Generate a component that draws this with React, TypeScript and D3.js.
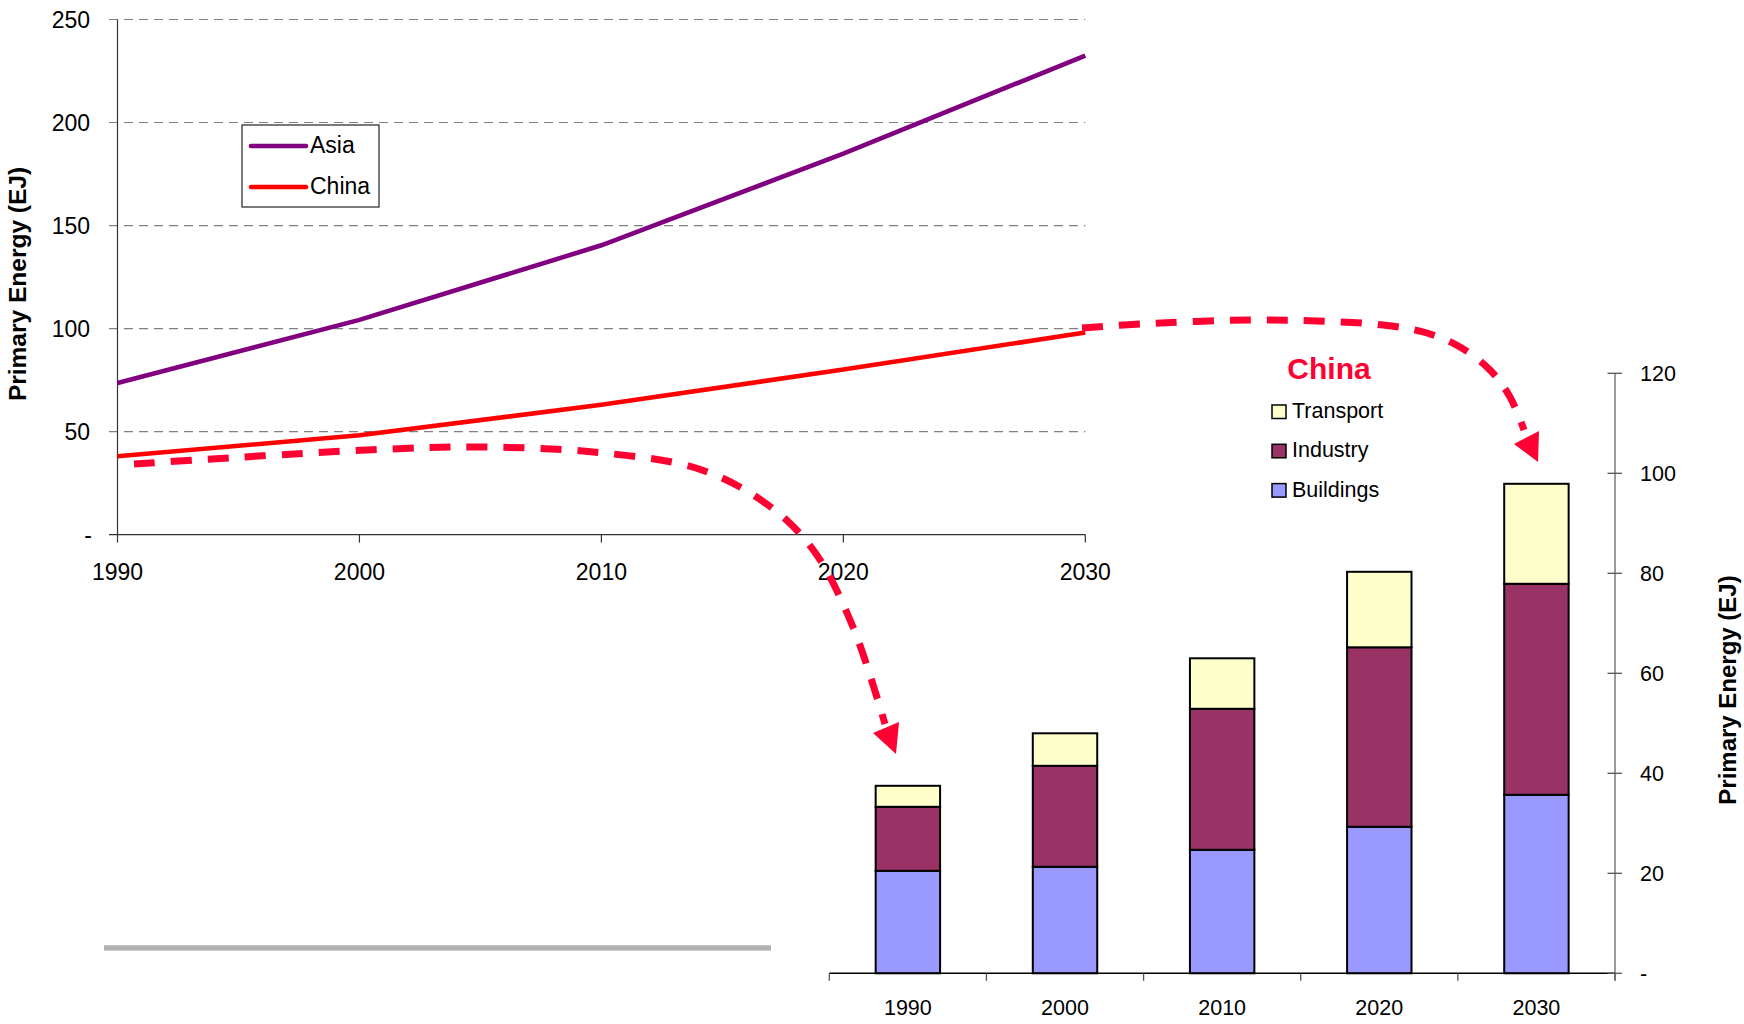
import React from "react";
import * as d3 from "d3";

// ---------- data ----------
const lineYears = [1990, 2000, 2010, 2020, 2030];
const asiaValues = [73.6, 104.2, 140.4, 184.9, 232.5];
const chinaValues = [38.0, 48.2, 63.0, 80.1, 98.1];
const leftYTicks = [0, 50, 100, 150, 200, 250];

const barYears = ["1990", "2000", "2010", "2020", "2030"];
const buildings = [20.5, 21.3, 24.7, 29.3, 35.7];
const industry = [12.8, 20.2, 28.2, 35.9, 42.2];
const transport = [4.2, 6.5, 10.1, 15.1, 20.0];
const rightYTicks = [0, 20, 40, 60, 80, 100, 120];

const sectorKeys = ["Buildings", "Industry", "Transport"];
const sectorColors: Record<string, string> = {
  Buildings: "#9999FF",
  Industry: "#993366",
  Transport: "#FFFFCC",
};
const legendOrder = ["Transport", "Industry", "Buildings"];

// annotation arrows (pixel space)
const arrow1: [number, number][] = [
  [134, 464], [367, 450], [478, 447], [593, 452], [699, 469], [768, 505],
  [814, 551], [853, 627], [885, 724],
];
const arrow1Head: [number, number][] = [[873, 733], [899, 722], [896, 754]];
const arrow2: [number, number][] = [
  [1082, 328], [1140, 324], [1250, 320], [1317, 321], [1383, 325], [1427, 333],
  [1460, 347], [1490, 370], [1510, 397], [1524, 430],
];
const arrow2Head: [number, number][] = [[1514, 444], [1539, 431], [1538, 462]];

const FONT = "Arial, 'Liberation Sans', Helvetica, sans-serif";
const ARROW_RED = "#FF0033";

export default function App() {
  // left line chart scales
  const xL = d3.scaleLinear().domain([1990, 2030]).range([117.5, 1085.3]);
  const yL = d3.scaleLinear().domain([0, 250]).range([534.6, 19.5]);
  const lineGen = d3
    .line<number>()
    .x((_, i) => xL(lineYears[i]))
    .y((d) => yL(d));

  // right bar chart scales
  const xR = d3
    .scaleBand<string>()
    .domain(barYears)
    .range([829.3, 1615])
    .paddingInner(0.59)
    .paddingOuter(0.295);
  const yR = d3.scaleLinear().domain([0, 120]).range([973.3, 373.3]);
  const rows = barYears.map((y, i) => ({
    year: y,
    Buildings: buildings[i],
    Industry: industry[i],
    Transport: transport[i],
  }));
  const stacked = d3.stack<any>().keys(sectorKeys)(rows);
  const step = xR.step();
  const bandEdges = d3.range(barYears.length + 1).map((i) => 829.3 + i * step);

  const arrowLine = d3
    .line<[number, number]>()
    .x((d) => d[0])
    .y((d) => d[1])
    .curve(d3.curveCatmullRom.alpha(0.5));

  const fmt = (v: number) => (v === 0 ? "-" : String(v));

  return (
    <svg
      width={1744}
      height={1024}
      style={{ position: "absolute", left: 0, top: 0, background: "#fff" }}
      fontFamily={FONT}
    >
      <rect x={0} y={0} width={1744} height={1024} fill="#fff" />

      {/* ---------- left chart ---------- */}
      {leftYTicks.map((t) =>
        t === 0 ? null : (
          <line
            key={"g" + t}
            x1={109}
            x2={xL(2030)}
            y1={yL(t)}
            y2={yL(t)}
            stroke="#808080"
            strokeWidth={1.2}
            strokeDasharray="9,6"
          />
        )
      )}
      {/* axes */}
      <line x1={xL(1990)} x2={xL(1990)} y1={yL(250)} y2={yL(0)} stroke="#333" strokeWidth={1.2} />
      <line x1={109} x2={xL(2030)} y1={yL(0)} y2={yL(0)} stroke="#333" strokeWidth={1.2} />
      {lineYears.map((y) => (
        <line key={"xt" + y} x1={xL(y)} x2={xL(y)} y1={yL(0)} y2={yL(0) + 8} stroke="#333" strokeWidth={1.2} />
      ))}
      {leftYTicks.map((t) => (
        <text
          key={"yl" + t}
          x={t === 0 ? 92 : 90}
          y={yL(t)}
          dy="0.35em"
          textAnchor="end"
          fontSize={23}
          fill="#000"
        >
          {fmt(t)}
        </text>
      ))}
      {lineYears.map((y) => (
        <text key={"xl" + y} x={xL(y)} y={580} textAnchor="middle" fontSize={23} fill="#000">
          {y}
        </text>
      ))}
      <text
        transform={`translate(26,${284}) rotate(-90)`}
        textAnchor="middle"
        fontSize={24.5}
        fontWeight="bold"
        fill="#000"
      >
        Primary Energy (EJ)
      </text>

      {/* lines */}
      <path d={lineGen(asiaValues) || ""} fill="none" stroke="#800080" strokeWidth={4.6} />
      <path d={lineGen(chinaValues) || ""} fill="none" stroke="#FF0000" strokeWidth={4.6} />

      {/* legend left */}
      <rect x={242} y={125} width={137} height={82} fill="#fff" stroke="#333" strokeWidth={1.3} />
      <line x1={251} x2={306} y1={146} y2={146} stroke="#800080" strokeWidth={4.6} strokeLinecap="round" />
      <text x={310} y={153} fontSize={23} fill="#000">Asia</text>
      <line x1={251} x2={306} y1={187} y2={187} stroke="#FF0000" strokeWidth={4.6} strokeLinecap="round" />
      <text x={310} y={194} fontSize={23} fill="#000">China</text>

      {/* gray bar below left chart */}
      <rect x={104} y={945} width={667} height={6} fill="#b2b2b2" />
      <rect x={104} y={945} width={667} height={1} fill="#c4c4c4" />
      <rect x={104} y={950} width={667} height={1} fill="#cfcfcf" />

      {/* ---------- right bar chart ---------- */}
      {stacked.map((layer) =>
        layer.map((d, i) => (
          <rect
            key={layer.key + i}
            x={xR(barYears[i])}
            y={yR(d[1])}
            width={xR.bandwidth()}
            height={yR(d[0]) - yR(d[1])}
            fill={sectorColors[layer.key]}
            stroke="#000"
            strokeWidth={2}
          />
        ))
      )}
      <line x1={829.3} x2={1615} y1={yR(0)} y2={yR(0)} stroke="#000" strokeWidth={1.5} />
      {bandEdges.map((x, i) => (
        <line key={"bt" + i} x1={x} x2={x} y1={yR(0)} y2={yR(0) + 7.5} stroke="#555" strokeWidth={1.3} />
      ))}
      <line x1={1615} x2={1615} y1={yR(120)} y2={yR(0) + 7.5} stroke="#666" strokeWidth={1.3} />
      {rightYTicks.map((t) => (
        <g key={"ryt" + t}>
          <line x1={1607.5} x2={1622} y1={yR(t)} y2={yR(t)} stroke="#555" strokeWidth={1.3} />
          <text x={1640} y={yR(t)} dy="0.35em" fontSize={21.5} fill="#000">
            {fmt(t)}
          </text>
        </g>
      ))}
      {barYears.map((y) => (
        <text
          key={"bl" + y}
          x={(xR(y) || 0) + xR.bandwidth() / 2}
          y={1015}
          textAnchor="middle"
          fontSize={21.5}
          fill="#000"
        >
          {y}
        </text>
      ))}
      <text
        transform={`translate(1736,${690}) rotate(-90)`}
        textAnchor="middle"
        fontSize={24}
        fontWeight="bold"
        fill="#000"
      >
        Primary Energy (EJ)
      </text>

      {/* legend right */}
      <text x={1329} y={379} textAnchor="middle" fontSize={30} fontWeight="bold" fill={ARROW_RED}>
        China
      </text>
      {legendOrder.map((k, i) => (
        <g key={"lg" + k}>
          <rect
            x={1272}
            y={405 + i * 39.3}
            width={14}
            height={13.5}
            fill={sectorColors[k]}
            stroke="#000"
            strokeWidth={1.5}
          />
          <text x={1292} y={418 + i * 39.3} fontSize={21.5} fill="#000">
            {k}
          </text>
        </g>
      ))}

      {/* ---------- annotation arrows ---------- */}
      <path
        d={arrowLine(arrow1) || ""}
        fill="none"
        stroke={ARROW_RED}
        strokeWidth={7}
        strokeDasharray="21,16"
      />
      <polygon points={arrow1Head.map((p) => p.join(",")).join(" ")} fill={ARROW_RED} />
      <path
        d={arrowLine(arrow2) || ""}
        fill="none"
        stroke={ARROW_RED}
        strokeWidth={7}
        strokeDasharray="21,16"
      />
      <polygon points={arrow2Head.map((p) => p.join(",")).join(" ")} fill={ARROW_RED} />
    </svg>
  );
}
